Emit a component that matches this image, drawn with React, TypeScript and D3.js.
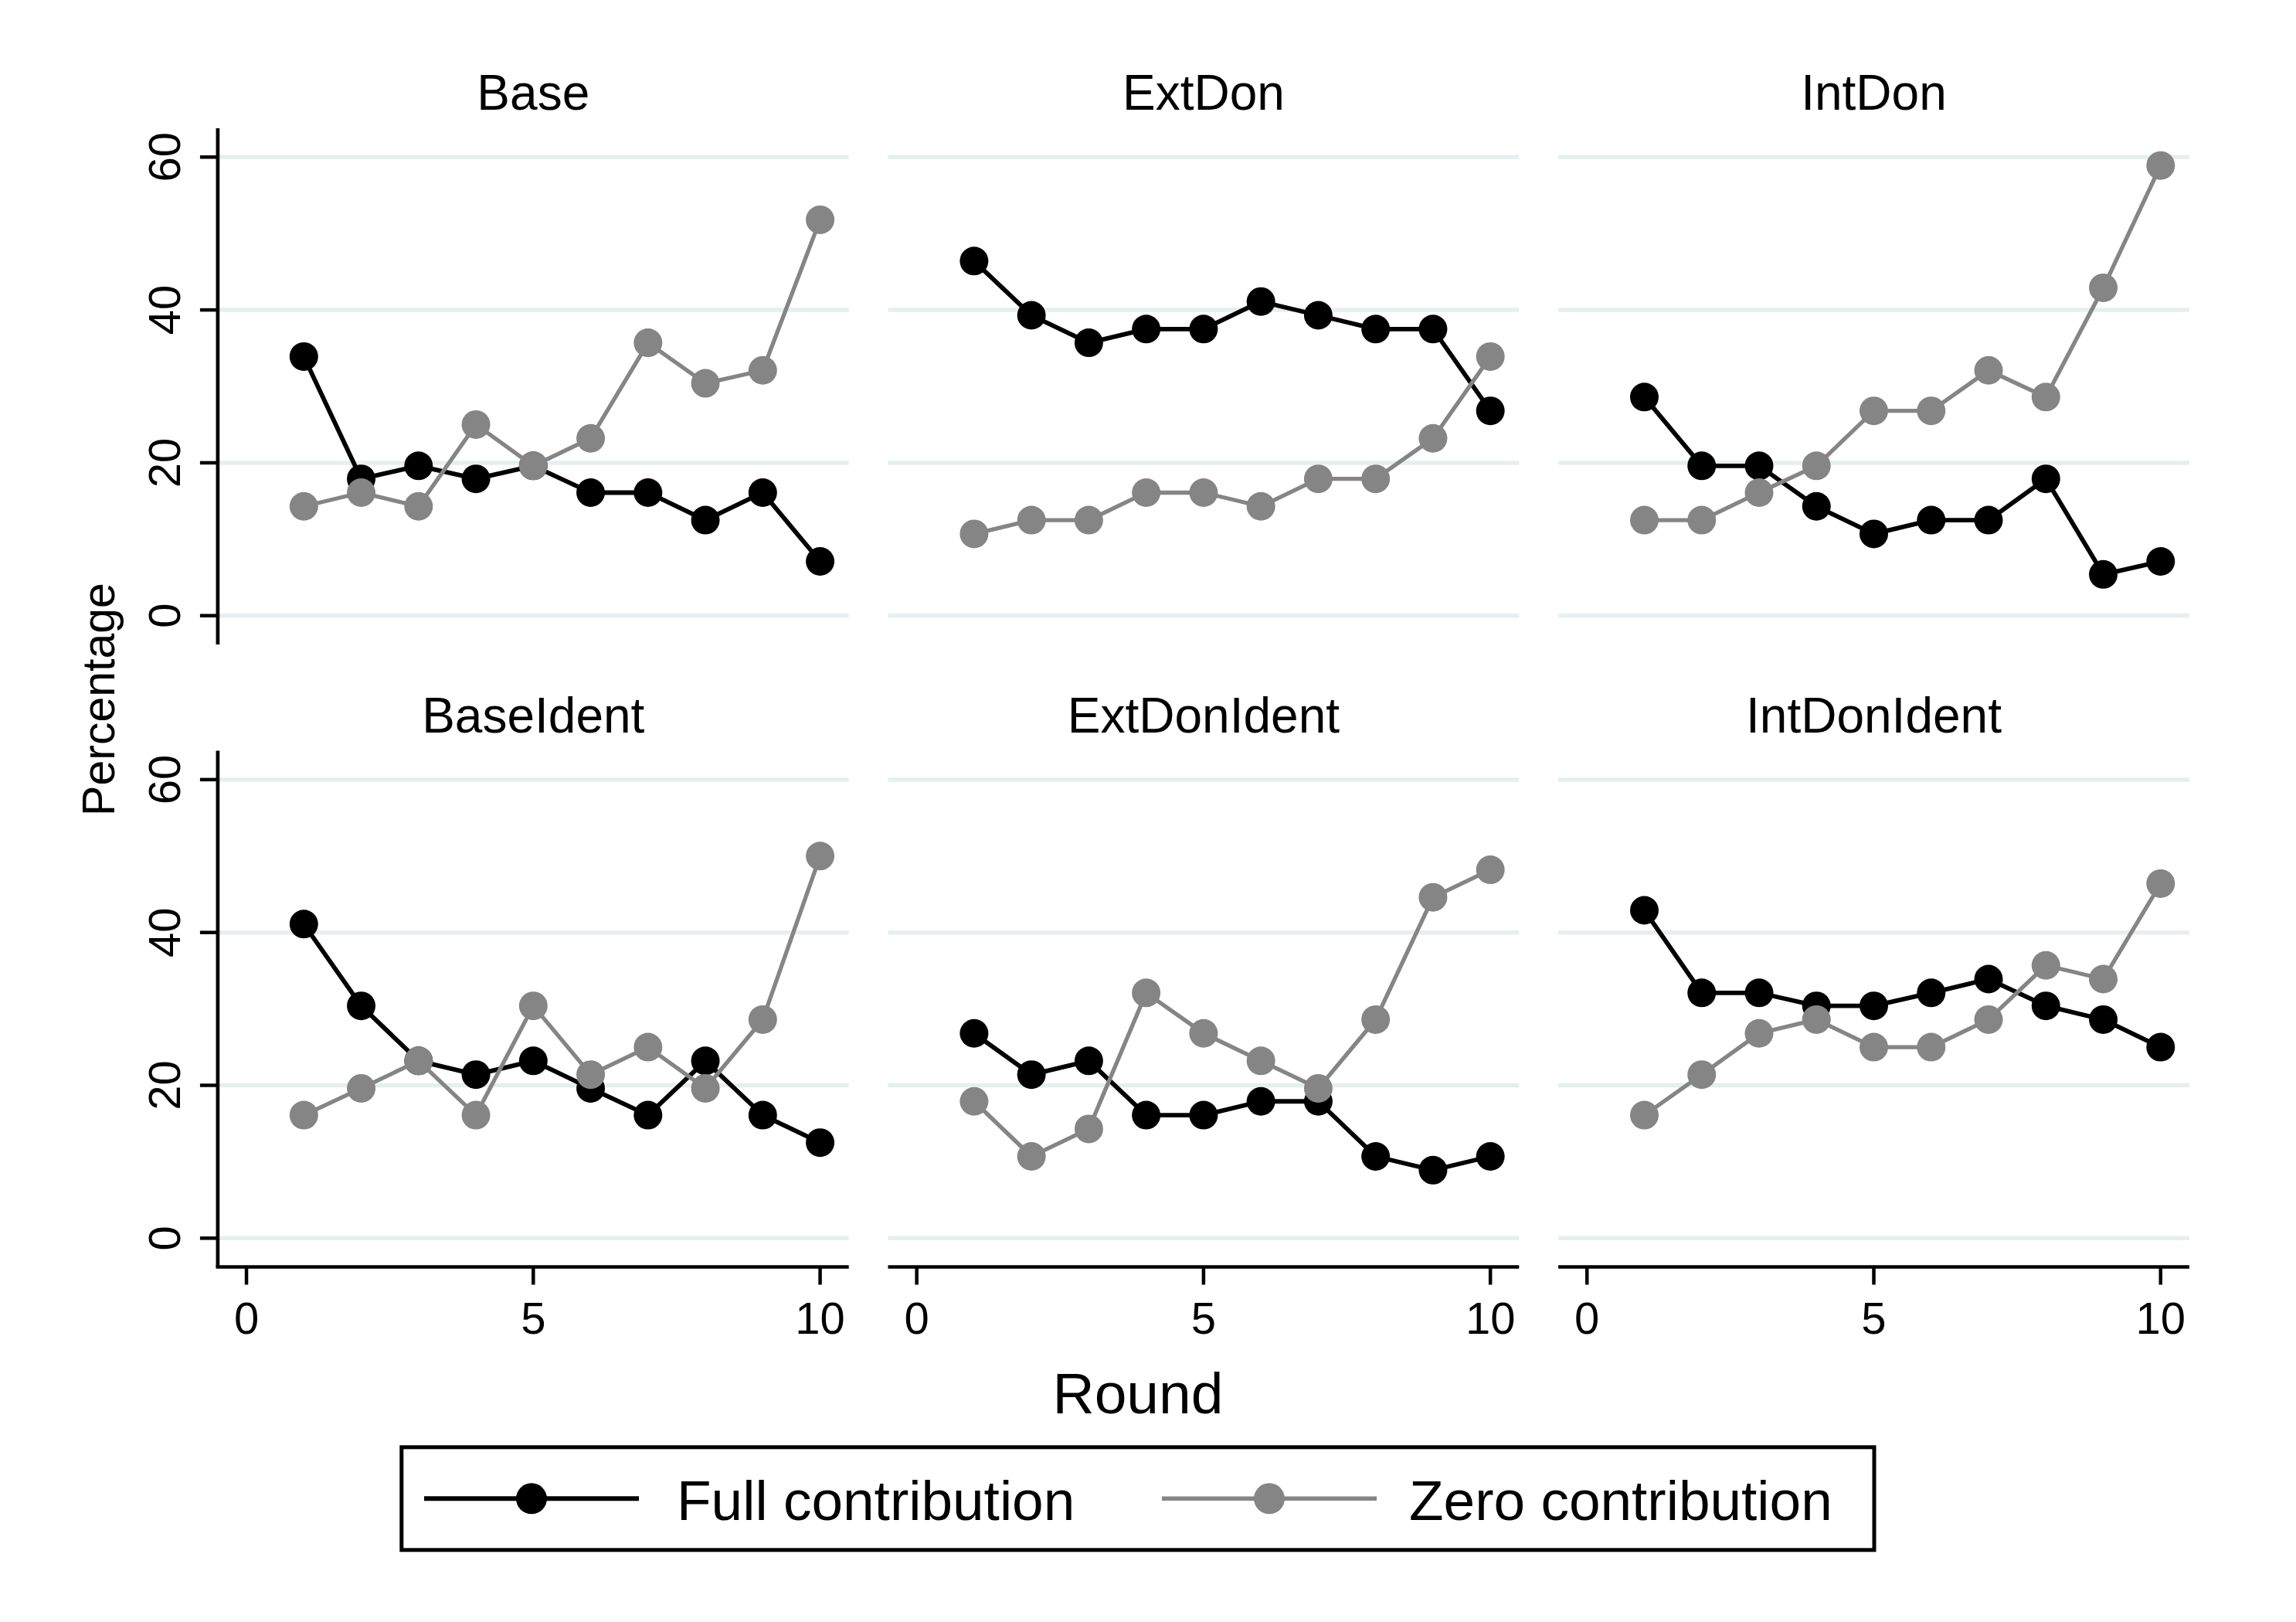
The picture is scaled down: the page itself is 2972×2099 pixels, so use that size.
import { useEffect, useRef } from 'react';
import * as d3 from 'd3';

// rounds on the x axis
const rounds = [1, 2, 3, 4, 5, 6, 7, 8, 9, 10];

// panel titles, row by row
const treatments = ['Base', 'ExtDon', 'IntDon', 'BaseIdent', 'ExtDonIdent', 'IntDonIdent'];

// percentage of subjects with full contribution
const baseFull = [33.9, 17.9, 19.6, 17.9, 19.6, 16.1, 16.1, 12.5, 16.1, 7.1];
const extDonFull = [46.4, 39.3, 35.7, 37.5, 37.5, 41.1, 39.3, 37.5, 37.5, 26.8];
const intDonFull = [28.6, 19.6, 19.6, 14.3, 10.7, 12.5, 12.5, 17.9, 5.4, 7.1];
const baseIdentFull = [41.1, 30.4, 23.2, 21.4, 23.2, 19.6, 16.1, 23.2, 16.1, 12.5];
const extDonIdentFull = [26.8, 21.4, 23.2, 16.1, 16.1, 17.9, 17.9, 10.7, 8.9, 10.7];
const intDonIdentFull = [42.9, 32.1, 32.1, 30.4, 30.4, 32.1, 33.9, 30.4, 28.6, 25.0];

// percentage of subjects with zero contribution
const baseZero = [14.3, 16.1, 14.3, 25.0, 19.6, 23.2, 35.7, 30.4, 32.1, 51.8];
const extDonZero = [10.7, 12.5, 12.5, 16.1, 16.1, 14.3, 17.9, 17.9, 23.2, 33.9];
const intDonZero = [12.5, 12.5, 16.1, 19.6, 26.8, 26.8, 32.1, 28.6, 42.9, 58.9];
const baseIdentZero = [16.1, 19.6, 23.2, 16.1, 30.4, 21.4, 25.0, 19.6, 28.6, 50.0];
const extDonIdentZero = [17.9, 10.7, 14.3, 32.1, 26.8, 23.2, 19.6, 28.6, 44.6, 48.2];
const intDonIdentZero = [16.1, 21.4, 26.8, 28.6, 25.0, 25.0, 28.6, 35.7, 33.9, 46.4];

const fullSeries = [baseFull, extDonFull, intDonFull, baseIdentFull, extDonIdentFull, intDonIdentFull];
const zeroSeries = [baseZero, extDonZero, intDonZero, baseIdentZero, extDonIdentZero, intDonIdentZero];

const yTicks = [0, 20, 40, 60];
const xTicks = [0, 5, 10];
const legendLabels = ['Full contribution', 'Zero contribution'];
const seriesColors = ['#000000', '#858585'];

const W = 2972;
const H = 2099;
const FONT = '"Liberation Sans", Arial, Helvetica, sans-serif';

const panelLeft = 281.9;
const panelW = 816.8;
const panelStep = 867.6;
const rowTops = [166, 971.6];
const plotH = 667.9;

const App = () => {
    const svgRef = useRef<SVGSVGElement>(null);

    useEffect(() => {
        const svg = d3.select(svgRef.current);
        svg.selectAll('*').remove();

        svg.append('rect').attr('width', W).attr('height', H).attr('fill', '#ffffff');

        const x = d3.scaleLinear().domain([-0.5, 10.5]).range([0, panelW]);
        const y = d3.scaleLinear().domain([-3.76, 63.77]).range([plotH, 0]);

        const line = d3
            .line<number>()
            .x((_, i) => x(rounds[i]))
            .y(d => y(d));

        treatments.forEach((name, p) => {
            const col = p % 3;
            const row = Math.floor(p / 3);
            const g = svg
                .append('g')
                .attr('transform', `translate(${panelLeft + col * panelStep},${rowTops[row]})`);

            // grid lines
            g.selectAll('.grid')
                .data(yTicks)
                .join('line')
                .attr('x1', 0)
                .attr('x2', panelW)
                .attr('y1', d => y(d))
                .attr('y2', d => y(d))
                .attr('stroke', '#e6efef')
                .attr('stroke-width', 5.5);

            // title
            g.append('text')
                .attr('x', panelW / 2)
                .attr('y', -24)
                .attr('text-anchor', 'middle')
                .attr('font-family', FONT)
                .attr('font-size', 64)
                .text(name);

            // y axis on the first column
            if (col === 0) {
                g.append('line')
                    .attr('x1', 0)
                    .attr('x2', 0)
                    .attr('y1', 0)
                    .attr('y2', plotH)
                    .attr('stroke', '#000')
                    .attr('stroke-width', 4.7);
                g.selectAll('.ytick')
                    .data(yTicks)
                    .join('line')
                    .attr('x1', -23)
                    .attr('x2', 0)
                    .attr('y1', d => y(d))
                    .attr('y2', d => y(d))
                    .attr('stroke', '#000')
                    .attr('stroke-width', 4.5);
                g.selectAll('.ylab')
                    .data(yTicks)
                    .join('text')
                    .attr('transform', d => `translate(-49,${y(d)}) rotate(-90)`)
                    .attr('text-anchor', 'middle')
                    .attr('font-family', FONT)
                    .attr('font-size', 58)
                    .text(d => d);
            }

            // x axis on the bottom row
            if (row === 1) {
                g.append('line')
                    .attr('x1', col === 0 ? -2.35 : 0)
                    .attr('x2', panelW)
                    .attr('y1', plotH)
                    .attr('y2', plotH)
                    .attr('stroke', '#000')
                    .attr('stroke-width', 4.5);
                g.selectAll('.xtick')
                    .data(xTicks)
                    .join('line')
                    .attr('x1', d => x(d))
                    .attr('x2', d => x(d))
                    .attr('y1', plotH)
                    .attr('y2', plotH + 23)
                    .attr('stroke', '#000')
                    .attr('stroke-width', 4.5);
                g.selectAll('.xlab')
                    .data(xTicks)
                    .join('text')
                    .attr('x', d => x(d))
                    .attr('y', plotH + 86.5)
                    .attr('text-anchor', 'middle')
                    .attr('font-family', FONT)
                    .attr('font-size', 58)
                    .text(d => d);
            }

            // series: full first, zero on top
            [fullSeries[p], zeroSeries[p]].forEach((values, s) => {
                g.append('path')
                    .attr('d', line(values) ?? '')
                    .attr('fill', 'none')
                    .attr('stroke', seriesColors[s])
                    .attr('stroke-width', s === 0 ? 5.8 : 5.3)
                    .attr('stroke-linejoin', 'round');
                g.selectAll(`.pt${s}`)
                    .data(values)
                    .join('circle')
                    .attr('cx', (_, i) => x(rounds[i]))
                    .attr('cy', d => y(d))
                    .attr('r', 18.5)
                    .attr('fill', seriesColors[s]);
            });
        });

        // axis titles
        svg.append('text')
            .attr('transform', 'translate(148.3,905) rotate(-90)')
            .attr('text-anchor', 'middle')
            .attr('font-family', FONT)
            .attr('font-size', 59)
            .text('Percentage');

        svg.append('text')
            .attr('x', 1473)
            .attr('y', 1829.3)
            .attr('text-anchor', 'middle')
            .attr('font-family', FONT)
            .attr('font-size', 75)
            .text('Round');

        // legend
        const legend = svg.append('g');
        legend
            .append('rect')
            .attr('x', 519.8)
            .attr('y', 1872.8)
            .attr('width', 2426 - 519.8)
            .attr('height', 2005.8 - 1872.8)
            .attr('fill', '#fff')
            .attr('stroke', '#000')
            .attr('stroke-width', 5);

        const keyX = [549, 1504];
        const textX = [876, 1824];
        legendLabels.forEach((label, i) => {
            legend
                .append('line')
                .attr('x1', keyX[i])
                .attr('x2', keyX[i] + 278)
                .attr('y1', 1939.3)
                .attr('y2', 1939.3)
                .attr('stroke', seriesColors[i])
                .attr('stroke-width', i === 0 ? 6 : 5.5);
            legend
                .append('circle')
                .attr('cx', keyX[i] + 139)
                .attr('cy', 1939.3)
                .attr('r', 20)
                .attr('fill', seriesColors[i]);
            legend
                .append('text')
                .attr('x', textX[i])
                .attr('y', 1967.3)
                .attr('font-family', FONT)
                .attr('font-size', 73)
                .text(label);
        });
    }, []);

    return (
        <div style={{ position: 'absolute', left: 0, top: 0 }}>
            <svg ref={svgRef} width={W} height={H} style={{ display: 'block' }}></svg>
        </div>
    );
};

export default App;
